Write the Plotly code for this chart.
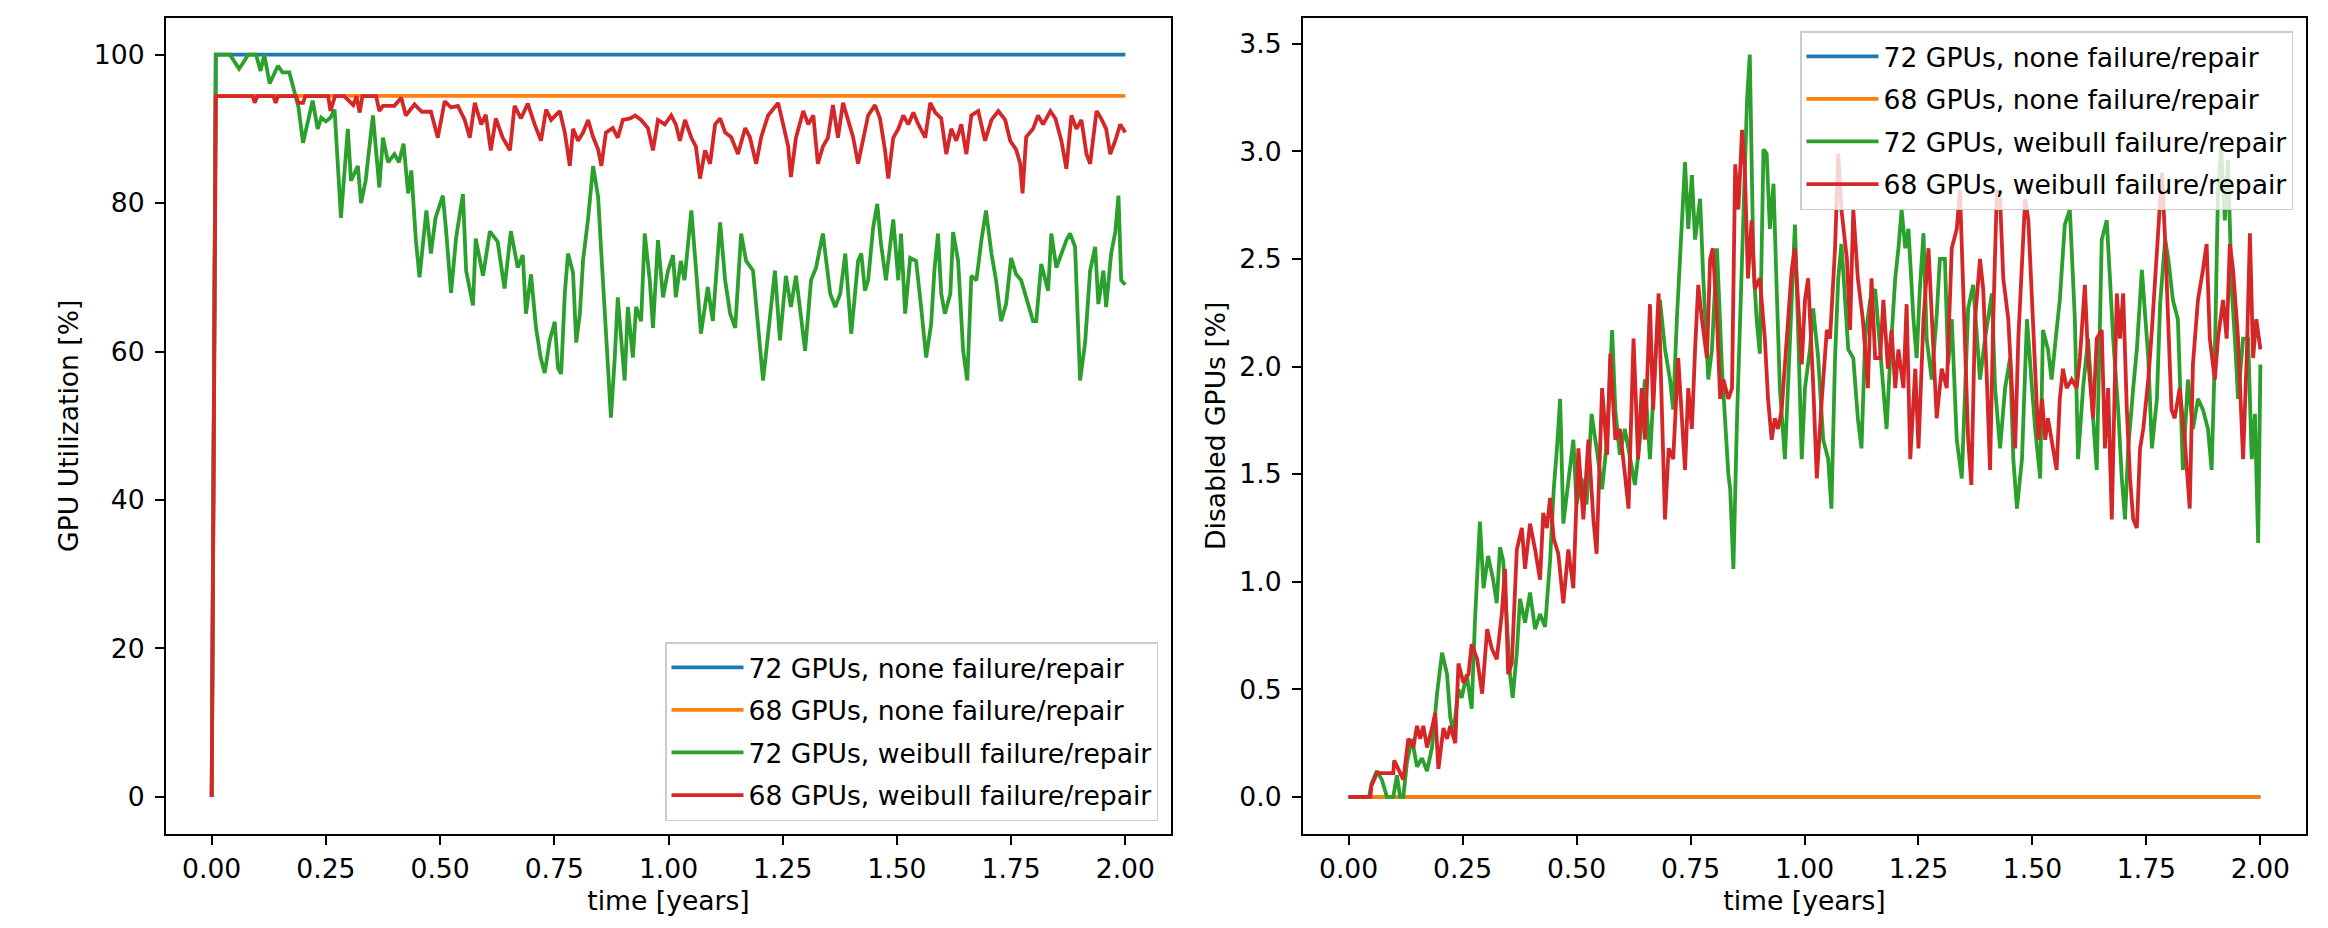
import plotly.graph_objects as go

# ---------------- data ----------------
series_names = [
    "72 GPUs, none failure/repair",
    "68 GPUs, none failure/repair",
    "72 GPUs, weibull failure/repair",
    "68 GPUs, weibull failure/repair",
]
colors = ["#1f77b4", "#ff7f0e", "#2ca02c", "#d62728"]

x_ticks = [0.0, 0.25, 0.5, 0.75, 1.0, 1.25, 1.5, 1.75, 2.0]
util_ticks = [0, 20, 40, 60, 80, 100]
dis_ticks = [0.0, 0.5, 1.0, 1.5, 2.0, 2.5, 3.0, 3.5]

# left panel: GPU utilization [%]
util_none72_t = [0, 0.009, 2.0]
util_none72 = [0, 100, 100]
util_none68_t = [0, 0.009, 2.0]
util_none68 = [0, 94.44, 94.44]

util_weib72_t = [0, 0.009, 0.04, 0.05, 0.06, 0.07, 0.08, 0.097, 0.107, 0.115, 0.127, 0.145, 0.155, 0.17,
                 0.18, 0.19, 0.2, 0.21, 0.221, 0.232, 0.24, 0.25, 0.26, 0.269, 0.283, 0.298, 0.305, 0.32,
                 0.327, 0.337, 0.353, 0.367, 0.375, 0.386, 0.40, 0.41, 0.42, 0.43, 0.437, 0.447, 0.455, 0.47,
                 0.48, 0.49, 0.506, 0.513, 0.524, 0.535, 0.55, 0.557, 0.572, 0.578, 0.594, 0.609, 0.626, 0.641,
                 0.655, 0.67, 0.681, 0.688, 0.699, 0.71, 0.72, 0.729, 0.74, 0.751, 0.758, 0.765, 0.773, 0.78,
                 0.791, 0.798, 0.806, 0.813, 0.824, 0.835, 0.846, 0.853, 0.863, 0.874, 0.882, 0.889, 0.904,
                 0.911, 0.922, 0.929, 0.94, 0.948, 0.959, 0.966, 0.977, 0.988, 0.999, 1.01, 1.016, 1.027,
                 1.035, 1.043, 1.05, 1.06, 1.071, 1.086, 1.097, 1.113, 1.124, 1.135, 1.146, 1.159, 1.17,
                 1.185, 1.196, 1.207, 1.218, 1.233, 1.244, 1.257, 1.268, 1.279, 1.29, 1.299, 1.312, 1.323,
                 1.338, 1.354, 1.365, 1.376, 1.387, 1.40, 1.415, 1.422, 1.43, 1.437, 1.448, 1.457, 1.465,
                 1.476, 1.492, 1.503, 1.509, 1.518, 1.529, 1.542, 1.553, 1.564, 1.575, 1.582, 1.59, 1.597,
                 1.605, 1.617, 1.623, 1.634, 1.645, 1.654, 1.663, 1.674, 1.685, 1.695, 1.707, 1.717, 1.728,
                 1.739, 1.75, 1.761, 1.772, 1.783, 1.798, 1.805, 1.816, 1.831, 1.838, 1.849, 1.86, 1.871,
                 1.879, 1.89, 1.901, 1.912, 1.923, 1.934, 1.941, 1.952, 1.958, 1.969, 1.978, 1.985, 1.991, 2.0]
util_weib72 = [0, 100, 100, 99.0, 98.1, 99.0, 100, 100, 97.8, 100, 96.1, 98.5, 97.6, 97.6,
               95.2, 92.9, 88.1, 90.7, 93.8, 90.0, 91.5, 91.0, 91.5, 92.6, 78.0, 90.0, 83.0, 85.0,
               80.0, 83.0, 91.8, 82.1, 88.8, 85.5, 86.6, 85.5, 88.0, 81.3, 84.4, 75.0, 70.0, 79.0,
               73.2, 78.0, 81.0, 76.4, 67.9, 75.3, 81.2, 70.9, 66.2, 75.2, 70.2, 76.2, 74.8, 68.5,
               76.2, 71.3, 73.0, 65.1, 70.4, 63.2, 59.2, 57.1, 61.5, 64.0, 57.8, 57.0, 67.8, 73.2,
               70.6, 61.2, 65.1, 72.3, 77.9, 85.0, 80.8, 73.2, 63.2, 51.1, 58.8, 67.3, 56.1,
               66.0, 59.2, 66.0, 64.1, 75.9, 69.6, 63.2, 75.0, 67.3, 70.9, 73.0, 67.3, 72.2,
               69.6, 75.0, 79.0, 71.3, 62.4, 68.7, 64.1, 77.4, 69.6, 65.1, 63.2, 75.9, 72.2,
               70.9, 63.2, 56.1, 62.3, 70.9, 61.5, 70.2, 66.0, 70.2, 64.7, 60.1, 69.6, 71.3,
               75.9, 67.8, 66.0, 67.8, 73.2, 62.4, 72.2, 73.2, 68.2, 69.6, 76.7, 79.9, 74.6,
               69.6, 77.8, 69.6, 75.9, 65.1, 72.6, 72.2, 66.0, 59.2, 63.7, 70.9, 75.9, 67.8,
               65.1, 67.8, 76.1, 72.2, 60.1, 56.1, 70.2, 69.6, 75.0, 79.0, 73.2, 69.6, 64.1,
               66.4, 72.6, 70.4, 69.6, 67.3, 64.1, 64.1, 71.8, 68.2, 75.9, 71.3, 73.2, 75.0,
               75.9, 74.1, 56.1, 61.2, 70.9, 74.1, 66.4, 70.9, 66.0, 73.2, 76.1, 81.0, 69.6, 69.0]

util_weib68_t = [0, 0.009, 0.09, 0.094, 0.1, 0.135, 0.14, 0.145, 0.185, 0.19, 0.2, 0.205, 0.255, 0.26,
                 0.27, 0.29, 0.31, 0.317, 0.324, 0.33, 0.36, 0.367, 0.375, 0.40, 0.415, 0.425, 0.444, 0.46,
                 0.48, 0.495, 0.51, 0.524, 0.539, 0.554, 0.565, 0.576, 0.59, 0.60, 0.611, 0.622, 0.637,
                 0.653, 0.663, 0.677, 0.692, 0.707, 0.721, 0.732, 0.743, 0.762, 0.773, 0.784, 0.791, 0.802,
                 0.813, 0.824, 0.835, 0.846, 0.853, 0.863, 0.878, 0.889, 0.90, 0.916, 0.927, 0.94, 0.955,
                 0.966, 0.977, 0.992, 1.006, 1.016, 1.025, 1.036, 1.05, 1.06, 1.069, 1.08, 1.091, 1.102,
                 1.113, 1.124, 1.137, 1.152, 1.168, 1.178, 1.192, 1.203, 1.218, 1.229, 1.24, 1.251, 1.262,
                 1.268, 1.279, 1.295, 1.306, 1.317, 1.327, 1.338, 1.349, 1.36, 1.371, 1.382, 1.393, 1.404,
                 1.415, 1.426, 1.437, 1.452, 1.463, 1.474, 1.481, 1.492, 1.503, 1.514, 1.525, 1.536, 1.547,
                 1.562, 1.573, 1.584, 1.597, 1.608, 1.619, 1.63, 1.641, 1.652, 1.663, 1.678, 1.693, 1.707,
                 1.722, 1.737, 1.748, 1.761, 1.77, 1.775, 1.783, 1.798, 1.809, 1.82, 1.836, 1.847, 1.86,
                 1.871, 1.882, 1.893, 1.904, 1.915, 1.923, 1.937, 1.947, 1.958, 1.967, 1.978, 1.989, 2.0]
util_weib68 = [0, 94.4, 94.4, 93.5, 94.4, 94.4, 93.5, 94.4, 94.4, 93.5, 93.5, 94.4, 94.4, 92.4,
               94.4, 94.4, 93.2, 94.4, 92.2, 94.4, 94.4, 92.4, 93.1, 93.1, 94.2, 91.8, 93.3, 92.3,
               92.3, 88.8, 93.7, 92.9, 93.1, 91.2, 88.8, 93.5, 90.6, 91.9, 87.1, 91.4, 88.8,
               87.1, 93.1, 91.4, 93.4, 90.6, 88.4, 92.6, 91.2, 92.4, 89.5, 85.0, 90.0, 88.4,
               89.5, 91.2, 88.9, 87.2, 85.0, 89.5, 90.1, 88.8, 91.2, 91.4, 91.8, 91.2, 90.1,
               87.1, 91.2, 90.6, 91.8, 90.6, 88.4, 91.2, 88.8, 87.6, 83.3, 87.1, 85.3, 90.6,
               91.4, 89.5, 88.9, 86.6, 90.1, 88.9, 85.3, 88.9, 91.8, 92.6, 93.5, 90.6, 87.6,
               83.5, 88.8, 92.4, 90.6, 91.8, 85.3, 87.6, 88.8, 93.2, 88.8, 93.5, 91.2, 88.9,
               85.3, 88.8, 91.8, 93.2, 91.4, 87.1, 83.3, 88.8, 90.0, 91.8, 90.6, 92.2, 90.6,
               88.8, 93.5, 92.2, 91.4, 86.6, 90.0, 88.4, 90.6, 86.6, 91.8, 92.4, 88.4, 91.2,
               92.4, 91.2, 88.4, 87.2, 85.3, 81.3, 88.9, 90.0, 91.8, 90.6, 92.4, 91.4, 88.4,
               84.6, 91.8, 90.0, 91.2, 86.6, 85.3, 92.4, 91.4, 90.0, 86.6, 88.4, 90.6, 89.5]

# right panel: disabled GPUs [%]
dis_none72_t = [0, 2.0]
dis_none72 = [0, 0]
dis_none68_t = [0, 2.0]
dis_none68 = [0, 0]

dis_weib72_t = [0, 0.045, 0.05, 0.062, 0.073, 0.084, 0.098, 0.106, 0.113, 0.12, 0.128, 0.139, 0.15, 0.161,
                0.172, 0.183, 0.194, 0.205, 0.216, 0.223, 0.23, 0.241, 0.248, 0.259, 0.27, 0.277, 0.288,
                0.296, 0.306, 0.317, 0.325, 0.332, 0.339, 0.347, 0.354, 0.36, 0.369, 0.376, 0.387, 0.398,
                0.409, 0.42, 0.431, 0.442, 0.45, 0.457, 0.464, 0.471, 0.482, 0.493, 0.50, 0.511, 0.522,
                0.533, 0.544, 0.556, 0.567, 0.578, 0.585, 0.595, 0.606, 0.617, 0.628, 0.639, 0.65, 0.661,
                0.672, 0.683, 0.694, 0.705, 0.712, 0.72, 0.731, 0.738, 0.745, 0.753, 0.76, 0.771, 0.778,
                0.789, 0.797, 0.808, 0.819, 0.826, 0.833, 0.837, 0.844, 0.852, 0.863, 0.874, 0.88, 0.888,
                0.895, 0.902, 0.91, 0.917, 0.924, 0.932, 0.939, 0.946, 0.957, 0.968, 0.979, 0.986, 0.994,
                1.001, 1.012, 1.019, 1.03, 1.041, 1.052, 1.059, 1.067, 1.074, 1.081, 1.089, 1.096, 1.107,
                1.117, 1.125, 1.133, 1.144, 1.155, 1.166, 1.173, 1.18, 1.188, 1.199, 1.206, 1.213, 1.221,
                1.228, 1.239, 1.246, 1.253, 1.261, 1.268, 1.279, 1.29, 1.297, 1.308, 1.315, 1.323, 1.334,
                1.345, 1.359, 1.37, 1.378, 1.385, 1.396, 1.411, 1.418, 1.429, 1.44, 1.451, 1.458, 1.466,
                1.477, 1.488, 1.499, 1.506, 1.517, 1.523, 1.534, 1.542, 1.553, 1.56, 1.571, 1.582, 1.593,
                1.60, 1.611, 1.622, 1.633, 1.641, 1.652, 1.663, 1.67, 1.677, 1.688, 1.696, 1.703, 1.71,
                1.721, 1.729, 1.74, 1.747, 1.754, 1.762, 1.773, 1.78, 1.791, 1.798, 1.808, 1.819, 1.83,
                1.841, 1.852, 1.863, 1.874, 1.885, 1.893, 1.90, 1.907, 1.914, 1.922, 1.929, 1.937, 1.944,
                1.951, 1.962, 1.973, 1.981, 1.988, 1.995, 2.0]
dis_weib72 = [0, 0, 0.06, 0.12, 0.08, 0.0, 0.0, 0.10, 0.0, 0.0, 0.16, 0.27, 0.14, 0.18,
              0.12, 0.23, 0.48, 0.67, 0.57, 0.37, 0.30, 0.50, 0.46, 0.57, 0.41, 0.81, 1.28,
              0.97, 1.12, 1.01, 0.90, 1.16, 1.10, 0.83, 0.57, 0.46, 0.67, 0.92, 0.81, 0.95,
              0.78, 0.85, 0.79, 1.10, 1.43, 1.62, 1.85, 1.27, 1.45, 1.66, 1.36, 1.48, 1.36,
              1.78, 1.62, 1.43, 1.66, 2.17, 1.80, 1.59, 1.71, 1.57, 1.45, 1.66, 1.94, 1.57,
              2.01, 2.31, 2.08, 1.94, 1.80, 2.22, 2.68, 2.95, 2.64, 2.89, 2.59, 2.78, 2.41,
              1.94, 2.08, 2.55, 1.99, 1.73, 1.50, 1.43, 1.06, 1.76, 2.52, 3.24, 3.45, 2.48,
              2.22, 2.06, 3.01, 2.99, 2.64, 2.85, 2.36, 1.90, 1.57, 2.08, 2.66, 2.17, 1.57,
              1.90, 2.08, 2.27, 2.04, 1.66, 1.57, 1.34, 2.04, 2.41, 2.57, 2.31, 2.08, 2.04,
              1.76, 1.62, 2.13, 2.31, 2.36, 2.08, 1.90, 1.71, 2.04, 2.41, 2.55, 2.73, 2.55,
              2.64, 2.22, 2.04, 2.36, 2.62, 2.13, 1.94, 2.24, 2.50, 2.50, 2.01, 2.22, 1.66,
              1.48, 2.27, 2.38, 2.17, 1.94, 2.13, 2.34, 1.90, 1.62, 1.90, 2.04, 1.57, 1.34,
              1.57, 2.22, 1.90, 1.71, 1.48, 2.17, 2.08, 1.94, 2.17, 2.31, 2.66, 2.73, 2.22,
              1.57, 1.90, 2.13, 1.76, 1.52, 2.59, 2.68, 2.41, 2.13, 1.80, 1.48, 1.29, 1.62,
              1.90, 2.08, 2.45, 2.27, 2.04, 1.62, 1.85, 2.29, 2.59, 2.50, 2.31, 2.22, 1.52,
              1.94, 1.71, 1.85, 1.80, 1.71, 1.52, 2.04, 2.82, 3.01, 2.68, 2.96, 2.36, 2.13,
              1.85, 2.13, 2.13, 1.57, 1.78, 1.18, 2.01]

dis_weib68_t = [0, 0.048, 0.05, 0.062, 0.076, 0.098, 0.10, 0.113, 0.12, 0.131, 0.142, 0.15, 0.157, 0.164,
                0.172, 0.183, 0.19, 0.197, 0.208, 0.216, 0.223, 0.234, 0.241, 0.252, 0.263, 0.27, 0.282,
                0.293, 0.304, 0.314, 0.325, 0.336, 0.343, 0.35, 0.358, 0.369, 0.38, 0.387, 0.398, 0.409,
                0.42, 0.427, 0.435, 0.442, 0.45, 0.46, 0.471, 0.482, 0.493, 0.504, 0.515, 0.526, 0.537,
                0.544, 0.556, 0.567, 0.574, 0.585, 0.595, 0.606, 0.614, 0.625, 0.635, 0.643, 0.65, 0.661,
                0.668, 0.68, 0.687, 0.694, 0.702, 0.712, 0.723, 0.731, 0.738, 0.745, 0.753, 0.76, 0.767,
                0.775, 0.786, 0.793, 0.799, 0.808, 0.815, 0.822, 0.833, 0.841, 0.848, 0.855, 0.863, 0.869,
                0.876, 0.884, 0.891, 0.902, 0.913, 0.92, 0.928, 0.935, 0.942, 0.95, 0.961, 0.972, 0.979,
                0.986, 0.994, 1.001, 1.008, 1.019, 1.027, 1.038, 1.049, 1.056, 1.067, 1.074, 1.081, 1.093,
                1.10, 1.107, 1.117, 1.128, 1.139, 1.147, 1.155, 1.166, 1.173, 1.183, 1.191, 1.199, 1.206,
                1.217, 1.224, 1.232, 1.243, 1.25, 1.261, 1.272, 1.283, 1.29, 1.301, 1.312, 1.323, 1.334,
                1.341, 1.352, 1.359, 1.366, 1.374, 1.385, 1.392, 1.40, 1.407, 1.414, 1.422, 1.429, 1.436,
                1.447, 1.455, 1.462, 1.469, 1.477, 1.484, 1.491, 1.499, 1.506, 1.513, 1.521, 1.528, 1.534,
                1.545, 1.553, 1.56, 1.567, 1.575, 1.586, 1.597, 1.604, 1.615, 1.622, 1.633, 1.641, 1.652,
                1.659, 1.666, 1.674, 1.685, 1.692, 1.699, 1.707, 1.714, 1.721, 1.729, 1.736, 1.743, 1.754,
                1.762, 1.773, 1.78, 1.784, 1.791, 1.798, 1.805, 1.812, 1.823, 1.834, 1.845, 1.852, 1.863,
                1.874, 1.882, 1.889, 1.90, 1.907, 1.918, 1.926, 1.933, 1.94, 1.951, 1.962, 1.97, 1.977,
                1.984, 1.991, 2.0]
dis_weib68 = [0, 0, 0.05, 0.11, 0.11, 0.11, 0.17, 0.11, 0.08, 0.27, 0.23, 0.33, 0.27, 0.33,
              0.23, 0.32, 0.39, 0.13, 0.32, 0.27, 0.33, 0.25, 0.62, 0.53, 0.57, 0.71, 0.64,
              0.48, 0.78, 0.69, 0.64, 0.85, 1.06, 0.57, 0.62, 1.15, 1.25, 1.06, 1.27, 1.15,
              1.01, 1.32, 1.25, 1.39, 1.20, 1.13, 0.90, 1.15, 0.97, 1.62, 1.29, 1.66, 1.29,
              1.13, 1.90, 1.59, 2.06, 1.66, 1.71, 1.50, 1.34, 2.13, 1.57, 1.90, 1.66, 2.29,
              1.80, 2.34, 1.80, 1.29, 1.62, 1.57, 2.04, 1.76, 1.52, 1.90, 1.71, 2.08, 2.38,
              2.22, 2.04, 2.50, 2.55, 2.22, 1.85, 1.94, 1.85, 1.90, 2.94, 2.73, 3.10, 2.92,
              2.41, 2.68, 2.36, 2.41, 2.13, 1.85, 1.66, 1.76, 1.71, 1.80, 2.13, 2.45, 2.55,
              2.27, 2.01, 2.31, 2.41, 1.92, 1.48, 1.85, 2.17, 2.13, 2.55, 2.99, 2.73, 2.50,
              2.17, 2.73, 2.41, 2.22, 1.90, 2.41, 2.04, 2.04, 2.31, 1.99, 2.17, 1.90, 2.08,
              1.90, 2.29, 1.57, 1.99, 1.62, 2.22, 2.55, 2.08, 1.76, 1.99, 1.90, 2.55, 2.64,
              2.82, 2.13, 1.66, 1.45, 2.22, 2.50, 2.36, 1.94, 1.52, 2.22, 2.82, 2.78, 2.41,
              2.22, 1.90, 1.62, 2.13, 2.50, 2.78, 2.68, 2.31, 1.90, 1.66, 1.85, 1.66, 1.76,
              1.62, 1.52, 1.85, 1.99, 1.90, 1.94, 1.90, 2.04, 2.38, 2.04, 1.76, 2.13, 2.17,
              1.62, 1.90, 1.29, 2.34, 2.13, 2.34, 1.80, 1.48, 1.29, 1.25, 1.62, 1.71, 1.94,
              2.17, 2.55, 2.78, 2.90, 2.59, 2.13, 1.80, 1.76, 1.90, 1.66, 1.34, 2.01, 2.31,
              2.45, 2.57, 2.13, 1.94, 2.13, 2.31, 2.13, 2.57, 2.45, 2.13, 1.57, 2.04, 2.62,
              2.04, 2.22, 2.08]

# ---------------- figure ----------------
# the html page has an 8 px body margin, so the figure is drawn 8 px smaller
PAGE_OFF = 8
W, H = 2328 - PAGE_OFF, 928 - PAGE_OFF
FONT = "DejaVu Sans"
FS = 26.6
LW = 3.8

left_series = [(util_none72_t, util_none72), (util_none68_t, util_none68),
               (util_weib72_t, util_weib72), (util_weib68_t, util_weib68)]
right_series = [(dis_none72_t, dis_none72), (dis_none68_t, dis_none68),
                (dis_weib72_t, dis_weib72), (dis_weib68_t, dis_weib68)]

fig = go.Figure()
for i, (t, v) in enumerate(left_series):
    fig.add_trace(go.Scatter(x=t, y=v, mode="lines", name=series_names[i],
                             line=dict(color=colors[i], width=LW),
                             xaxis="x", yaxis="y", legend="legend",
                             legendgroup="L%d" % i))
for i, (t, v) in enumerate(right_series):
    fig.add_trace(go.Scatter(x=t, y=v, mode="lines", name=series_names[i],
                             line=dict(color=colors[i], width=LW),
                             xaxis="x2", yaxis="y2", legend="legend2",
                             legendgroup="R%d" % i))


def fx(p):
    """page pixel (x) -> paper fraction"""
    return (p - PAGE_OFF) / W


def fy(p):
    """page pixel (y, from top) -> paper fraction"""
    return 1 - (p - PAGE_OFF) / H


axis_common = dict(
    showline=True, linecolor="black", linewidth=2.1, mirror=True,
    ticks="outside", ticklen=9, tickwidth=2.1, tickcolor="black",
    showgrid=False, zeroline=False,
    tickfont=dict(family=FONT, size=FS, color="black"),
)

y_dom = [fy(834), fy(17.5)]
title_font = dict(family=FONT, size=FS, color="black")

legend_common = dict(
    font=dict(family=FONT, size=FS, color="black"),
    bgcolor="rgba(255,255,255,0.8)", bordercolor="#cccccc", borderwidth=1.5,
    itemwidth=72, tracegroupgap=5, traceorder="grouped",
)

fig.update_layout(
    width=W, height=H,
    margin=dict(l=0, r=0, t=0, b=0),
    paper_bgcolor="white", plot_bgcolor="white",
    font=dict(family=FONT, size=FS, color="black"),
    xaxis=dict(domain=[fx(166), fx(1171)], range=[-0.1, 2.1], anchor="y",
               tickvals=x_ticks, tickformat=".2f", ticklabelstandoff=1,
               title=dict(text="time [years]", standoff=8, font=title_font),
               **axis_common),
    yaxis=dict(domain=y_dom, range=[-5, 105], anchor="x",
               tickvals=util_ticks, ticklabelstandoff=5,
               title=dict(text="GPU Utilization [%]", standoff=8, font=title_font),
               **axis_common),
    xaxis2=dict(domain=[fx(1303), fx(2306)], range=[-0.1, 2.1], anchor="y2",
                tickvals=x_ticks, tickformat=".2f", ticklabelstandoff=1,
                title=dict(text="time [years]", standoff=8, font=title_font),
                **axis_common),
    yaxis2=dict(domain=y_dom, range=[-0.1725, 3.6225], anchor="x2",
                tickvals=dis_ticks, tickformat=".1f", ticklabelstandoff=5,
                title=dict(text="Disabled GPUs [%]", standoff=6, font=title_font),
                **axis_common),
    legend=dict(x=fx(1158), xanchor="right", y=fy(821), yanchor="bottom",
                **legend_common),
    legend2=dict(x=fx(2293), xanchor="right", y=fy(31), yanchor="top",
                 **legend_common),
)

fig.write_html("out.html")
